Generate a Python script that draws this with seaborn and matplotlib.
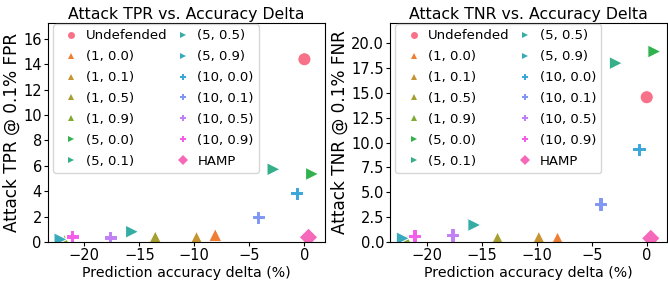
import numpy as np
import pandas as pd
import matplotlib
matplotlib.use("Agg")
import matplotlib.pyplot as plt
import seaborn as sns


defenses = ["Undefended", "(1, 0.0)", "(1, 0.1)", "(1, 0.5)", "(1, 0.9)",
            "(5, 0.0)", "(5, 0.1)", "(5, 0.5)", "(5, 0.9)",
            "(10, 0.0)", "(10, 0.1)", "(10, 0.5)", "(10, 0.9)", "HAMP"]
acc_delta = [0.0, -8.1, -9.8, -13.55, -21.8,
             0.7, -2.8, -15.65, -22.15,
             -0.7, -4.2, -17.65, -21.1, 0.37]
tpr = [14.4, 0.55, 0.34, 0.37, 0.1,
       5.36, 5.73, 0.81, 0.21,
       3.84, 1.95, 0.37, 0.42, 0.37]
tnr = [14.57, 0.37, 0.44, 0.37, 0.1,
       19.17, 18.0, 1.71, 0.37,
       9.33, 3.83, 0.7, 0.6, 0.37]
marker_map = ["o", "^", "^", "^", "^", ">", ">", ">", ">", "P", "P", "P", "P", "D"]
tpr_ticks = [0, 2, 4, 6, 8, 10, 12, 14, 16]
tnr_ticks = [0.0, 2.5, 5.0, 7.5, 10.0, 12.5, 15.0, 17.5, 20.0]
x_ticks = [-20, -15, -10, -5, 0]

df = pd.DataFrame({"defense": defenses, "delta": acc_delta, "tpr": tpr, "tnr": tnr})
markers = dict(zip(defenses, marker_map))
palette = sns.color_palette("husl", len(defenses))

fig, axes = plt.subplots(1, 2, figsize=(6.68, 2.88), dpi=100)
fig.subplots_adjust(left=48 / 668, right=667 / 668, bottom=46 / 288, top=1 - 22.7 / 288, wspace=0.237)

panels = [
    ("tpr", "Attack TPR vs. Accuracy Delta", "Attack TPR @ 0.1% FPR", 17.28, tpr_ticks, "{:.0f}"),
    ("tnr", "Attack TNR vs. Accuracy Delta", "Attack TNR @ 0.1% FNR", 22.07, tnr_ticks, "{:.1f}"),
]

for ax, (col, title, ylabel, ytop, yticks, fmt) in zip(axes, panels):
    sns.scatterplot(data=df, x="delta", y=col, hue="defense", style="defense",
                    markers=markers, palette=palette, hue_order=defenses,
                    style_order=defenses, s=90, ax=ax)
    ax.set_ylim(0, ytop)
    ax.set_yticks(yticks)
    ax.set_yticklabels([fmt.format(t) for t in yticks])
    ax.set_xticks(x_ticks)
    ax.set_xticklabels([f"{t:d}".replace("-", "\u2212") for t in x_ticks])
    ax.set_title(title, fontsize=11.3, pad=3)
    ax.set_xlabel("Prediction accuracy delta (%)", fontsize=10.2, labelpad=2)
    ax.set_ylabel(ylabel, fontsize=12.2, labelpad=2)
    ax.tick_params(labelsize=10.5, pad=1.5, length=3)
    leg = ax.legend(loc="upper left", bbox_to_anchor=(0.018, 0.994), borderaxespad=0,
                    ncol=2, fontsize=9.5, columnspacing=0.15, handlelength=2.0,
                    handletextpad=0.1, labelspacing=0.6, borderpad=0.4)
    for h in leg.legend_handles:
        h.set_markersize(5)
        h.set_markeredgewidth(0)

fig.savefig("out.png", dpi=100)
